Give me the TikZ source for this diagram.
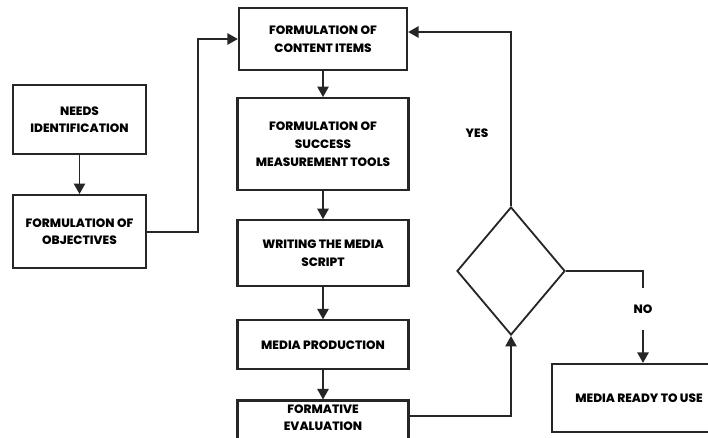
\documentclass[tikz,border=0pt]{standalone}
\usepackage{fontspec}
\setmainfont{Poppins}[BoldFont={Poppins ExtraBold}]
\usetikzlibrary{positioning, shapes.geometric, arrows.meta}

\begin{document}
\begin{tikzpicture}[
    x=0.025cm, y=-0.025cm,
    font=\bfseries\fontsize{8.6}{12.5}\selectfont,
    % Standard process box
    block/.style={
        draw=black!85,
        line width=1.5pt,
        rectangle,
        align=center,
        inner sep=3pt,
        minimum width=4.275cm
    },
    % Decision diamond
    decision/.style={
        draw=black!85,
        line width=1.3pt,
        shape=diamond,
        inner sep=0pt,
        minimum width=2.7cm,
        minimum height=3.2cm
    },
    label_text/.style={inner sep=0pt, align=center},
    line/.style={line width=1.4pt, draw=black!85},
    arrow/.style={line, -{Triangle[width=8pt, length=7.5pt]}}
]
    \useasboundingbox (0,0) rectangle (708,437);

    % ==========================================
    % 1. LEFT COLUMN
    % ==========================================

    \node (needs) [block, minimum width=3.325cm, minimum height=1.725cm] at (79.5,119.5) {NEEDS\\IDENTIFICATION};
    \node (objectives) [block, minimum width=3.325cm, minimum height=1.825cm, below=0.975cm of needs] {FORMULATION OF\\OBJECTIVES};

    \draw [arrow] (needs.south) -- (objectives.north);

    % ==========================================
    % 2. MAIN COLUMN
    % ==========================================

    \node (content) [block, minimum width=4.2cm, minimum height=1.55cm] at (323,39) {FORMULATION OF\\CONTENT ITEMS};
    \node (success) [block, minimum height=2.3cm, below=0.65cm of content] {FORMULATION OF\\SUCCESS\\MEASUREMENT TOOLS};
    \node (writing) [block, minimum height=1.65cm, below=0.7cm of success] {WRITING THE MEDIA\\SCRIPT};
    \node (production) [block, minimum height=1.225cm, below=0.8cm of writing] {MEDIA PRODUCTION};
    % box runs past the lower edge
    \node (formative) [block, minimum height=1.2cm, text depth=0.35cm, below=0.725cm of production] {FORMATIVE\\EVALUATION};

    \draw [arrow] (objectives.east) -- ++(51,0) |- (content.west);
    \draw [arrow] (content.south) -- (success.north);
    \draw [arrow] (success.south) -- (writing.north);
    \draw [arrow] (writing.south) -- (production.north);
    \draw [arrow] (production.south) -- (formative.north);

    % ==========================================
    % 3. DECISION AND OUTPUT
    % ==========================================

    \node (check) [decision] at (511,271) {};
    \node (yes) [label_text] at (477,133) {YES};
    \node (no) [label_text, minimum height=1.05cm] at (643,309) {NO};
    \node (ready) [block, minimum width=4.35cm, minimum height=1.7cm] at (639,398) {MEDIA READY TO USE};

    \draw [arrow] ([yshift=0.225cm]formative.east) -| (check.south);
    \draw [arrow] (check.north) |- ([yshift=0.175cm]content.east);
    \draw [line] (check.east) -| (no.north);
    \draw [arrow] (no.south) -- (no.south |- ready.north);

\end{tikzpicture}
\end{document}
